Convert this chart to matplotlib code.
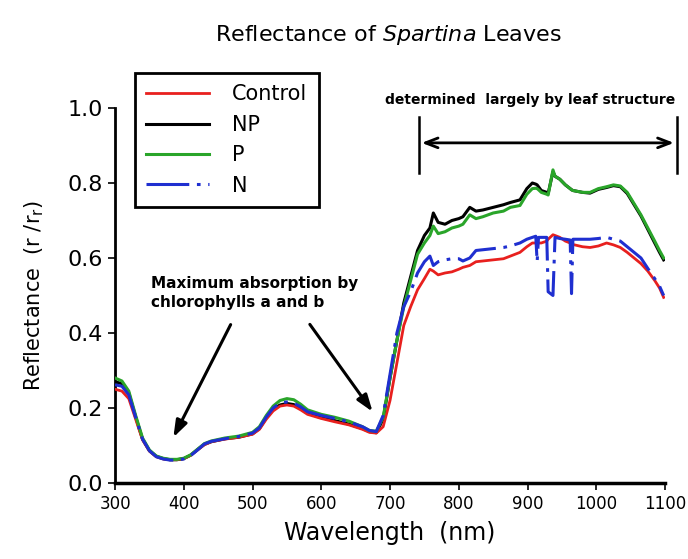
import matplotlib
matplotlib.use("Agg")
import matplotlib.pyplot as plt

wavelength = [300, 310, 320, 330, 340, 350, 360, 370, 380, 390, 400, 410, 420, 430, 440,
              460, 480, 500, 510, 520, 530, 540, 550, 560, 570, 580, 600, 620, 640, 660,
              670, 680, 690, 700, 710, 720, 730, 740, 750, 758, 763, 770, 780, 790, 800,
              806, 816, 825, 835, 850, 865, 875, 889, 899, 907, 912, 914, 916, 920, 928,
              930, 937, 940, 947, 955, 962, 964, 966, 980, 991, 1003, 1015, 1025, 1035,
              1045, 1055, 1065, 1075, 1085, 1092, 1098]

control = [0.250, 0.245, 0.225, 0.170, 0.115, 0.085, 0.070, 0.064, 0.062, 0.062, 0.065, 0.074, 0.088, 0.102, 0.110,
           0.117, 0.122, 0.130, 0.143, 0.170, 0.192, 0.205, 0.208, 0.205, 0.195, 0.183, 0.172, 0.163, 0.155, 0.143,
           0.135, 0.133, 0.150, 0.220, 0.320, 0.420, 0.470, 0.515, 0.545, 0.570, 0.565, 0.555, 0.560, 0.563, 0.570,
           0.575, 0.580, 0.590, 0.592, 0.595, 0.598, 0.605, 0.615, 0.630, 0.640, 0.640, 0.640, 0.640, 0.640, 0.645,
           0.650, 0.662, 0.660, 0.655, 0.645, 0.640, 0.638, 0.636, 0.630, 0.628, 0.632, 0.640, 0.635, 0.628,
           0.615, 0.600, 0.585, 0.565, 0.540, 0.520, 0.495]

np_series = [0.270, 0.265, 0.240, 0.176, 0.117, 0.086, 0.071, 0.065, 0.062, 0.062, 0.065, 0.074, 0.089, 0.103, 0.110,
             0.118, 0.122, 0.131, 0.145, 0.174, 0.197, 0.208, 0.212, 0.209, 0.198, 0.186, 0.174, 0.166, 0.157, 0.145,
             0.137, 0.134, 0.170, 0.280, 0.380, 0.480, 0.550, 0.620, 0.660, 0.680, 0.720, 0.695, 0.690, 0.700, 0.705,
             0.710, 0.735, 0.725, 0.728, 0.735, 0.742, 0.748, 0.755, 0.785, 0.800, 0.797, 0.795, 0.790, 0.780, 0.775,
             0.772, 0.830, 0.818, 0.810, 0.795, 0.785, 0.782, 0.780, 0.775, 0.773, 0.783, 0.788, 0.793, 0.790,
             0.772, 0.742, 0.712, 0.676, 0.640, 0.615, 0.595]

p_series = [0.280, 0.272, 0.245, 0.180, 0.120, 0.088, 0.072, 0.066, 0.063, 0.063, 0.066, 0.075, 0.090, 0.105, 0.112,
            0.120, 0.125, 0.135, 0.150, 0.180, 0.205, 0.220, 0.225, 0.222, 0.210, 0.195, 0.183, 0.175, 0.165, 0.150,
            0.140, 0.138, 0.175, 0.280, 0.380, 0.470, 0.540, 0.610, 0.640, 0.660, 0.685, 0.665, 0.670, 0.680, 0.685,
            0.690, 0.715, 0.705, 0.710, 0.720, 0.725, 0.735, 0.740, 0.770, 0.785, 0.786, 0.785, 0.782, 0.775, 0.770,
            0.768, 0.835, 0.818, 0.810, 0.795, 0.785, 0.782, 0.780, 0.775, 0.775, 0.785, 0.790, 0.795, 0.792,
            0.775, 0.745, 0.715, 0.680, 0.645, 0.620, 0.600]

n_series = [0.262, 0.258, 0.235, 0.175, 0.117, 0.086, 0.070, 0.064, 0.061, 0.061, 0.064, 0.073, 0.088, 0.104, 0.111,
            0.118, 0.124, 0.133, 0.147, 0.176, 0.200, 0.213, 0.216, 0.213, 0.203, 0.190, 0.180, 0.172, 0.163, 0.150,
            0.140, 0.137, 0.180, 0.290, 0.400, 0.470, 0.510, 0.560, 0.590, 0.605, 0.580, 0.590, 0.595, 0.598, 0.598,
            0.592, 0.600, 0.620, 0.622, 0.625, 0.628, 0.632, 0.640, 0.650, 0.655, 0.658, 0.590, 0.655, 0.655, 0.655,
            0.510, 0.500, 0.655, 0.652, 0.650, 0.648, 0.505, 0.650, 0.650, 0.650, 0.652, 0.655, 0.650, 0.645,
            0.630, 0.615, 0.600, 0.572, 0.545, 0.525, 0.500]

series_labels = ["Control", "NP", "P", "N"]
x_ticks = [300, 400, 500, 600, 700, 800, 900, 1000, 1100]
y_ticks = [0.0, 0.2, 0.4, 0.6, 0.8, 1.0]

fig = plt.figure(figsize=(6.88, 5.59), dpi=100)
ax = fig.add_axes([0.1672, 0.1360, 0.7994, 0.6708])

l_ctrl, = ax.plot(wavelength, control, color="#e8201e", lw=2.0, zorder=3)
l_np, = ax.plot(wavelength, np_series, color="black", lw=2.2, zorder=2)
l_p, = ax.plot(wavelength, p_series, color="#2aa52a", lw=2.2, zorder=3)
l_n, = ax.plot(wavelength, n_series, color="#1f2fd0", lw=2.2, zorder=4,
               linestyle=(0, (14, 2.5, 1.2, 2.5)))

ax.set_xlim(300, 1100)
ax.set_ylim(0, 1.0)
ax.set_xticks(x_ticks)
ax.set_xticklabels([str(t) for t in x_ticks], fontsize=12)
ax.set_yticks(y_ticks)
ax.set_yticklabels([f"{t:.1f}" for t in y_ticks], fontsize=16)
ax.spines["top"].set_visible(False)
ax.spines["right"].set_visible(False)
ax.spines["left"].set_linewidth(2)
ax.spines["bottom"].set_linewidth(2.5)
ax.tick_params(axis="both", direction="out", length=5, width=1.2)

fig.text(0.565, 0.938, "Reflectance of $\\it{Spartina}$ Leaves", ha="center", va="center", fontsize=16)
ax.set_xlabel("Wavelength  (nm)", fontsize=17, labelpad=6)
ax.set_ylabel("Reflectance  (r /r$_{\\rm r}$)", fontsize=15, labelpad=16)

leg = ax.legend([l_ctrl, l_np, l_p, l_n], series_labels, loc="upper left",
                bbox_to_anchor=(135 / 688, 1 - 73 / 559), bbox_transform=fig.transFigure,
                fontsize=15, handlelength=3.0, handletextpad=1.1, labelspacing=0.5,
                borderpad=0.55, fancybox=False, framealpha=1, edgecolor="black",
                borderaxespad=0)
leg.get_frame().set_linewidth(2)

# structure annotation
ax.text(904, 1.021, "determined  largely by leaf structure", ha="center", va="center",
        fontsize=10, fontweight="bold", clip_on=False)
ax.annotate("", xy=(1117, 0.907), xytext=(742, 0.907),
            arrowprops=dict(arrowstyle="<->,head_length=0.9,head_width=0.35", lw=2, color="black"),
            annotation_clip=False)
ax.plot([742, 742], [0.827, 0.976], color="black", lw=1.8, clip_on=False)
ax.plot([1117, 1117], [0.827, 0.976], color="black", lw=1.8, clip_on=False)

# chlorophyll annotation
ax.text(353, 0.552, "Maximum absorption by\nchlorophylls a and b", ha="left", va="top",
        fontsize=11, fontweight="bold", linespacing=1.3)
ax.annotate("", xy=(383, 0.115), xytext=(470, 0.429),
            arrowprops=dict(arrowstyle="-|>,head_length=1.0,head_width=0.35", lw=2.2, color="black"))
ax.annotate("", xy=(677, 0.184), xytext=(581, 0.429),
            arrowprops=dict(arrowstyle="-|>,head_length=1.0,head_width=0.35", lw=2.2, color="black"))

fig.savefig("out.png", dpi=100)
